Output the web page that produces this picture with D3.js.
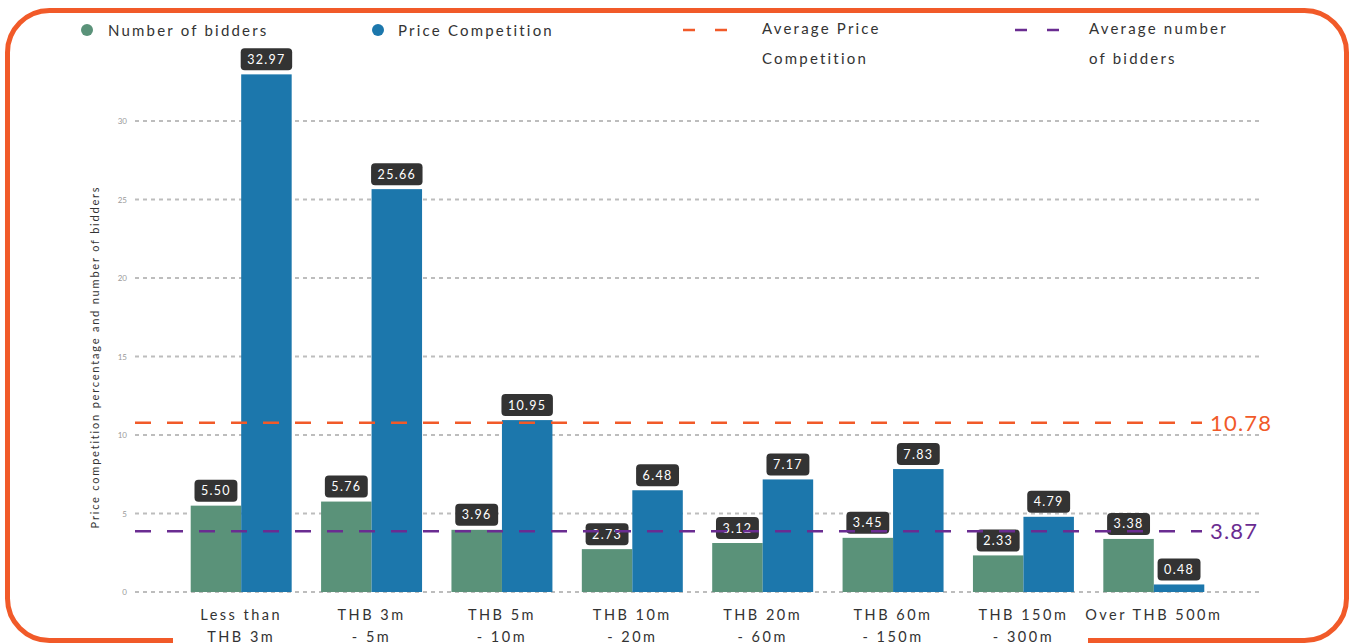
<!DOCTYPE html>
<html>
<head>
<meta charset="utf-8">
<script src="https://cdn.jsdelivr.net/npm/d3@7"></script>
<style>
  body { margin: 0; background: #fff; }
  svg { display: block; font-family: Lato, "Open Sans", sans-serif; }
</style>
</head>
<body>
<svg id="chart"></svg>
<script>
var categories = [["Less than", "THB 3m"], ["THB 3m", "- 5m"], ["THB 5m", "- 10m"], ["THB 10m", "- 20m"],
                  ["THB 20m", "- 60m"], ["THB 60m", "- 150m"], ["THB 150m", "- 300m"], ["Over THB 500m"]]
var bidders = [5.50, 5.76, 3.96, 2.73, 3.12, 3.45, 2.33, 3.38]
var priceCompetition = [32.97, 25.66, 10.95, 6.48, 7.17, 7.83, 4.79, 0.48]
var yTicks = [0, 5, 10, 15, 20, 25, 30]
var avgPrice = 10.78
var avgBidders = 3.87

var dimensions = {
    width: 1354,
    height: 644,
    margin: { top: 121, bottom: 52, left: 176, right: 135 }
}

var green = "#5a9279"
var blue = "#1c77ac"
var orange = "#f15a29"
var purple = "#6a2c91"

var svg = d3.select("#chart")
            .attr("width", dimensions.width)
            .attr("height", dimensions.height)

// frame
svg.append("rect")
   .attr("x", 7.5).attr("y", 10.5)
   .attr("width", 1339).attr("height", 630)
   .attr("rx", 42).attr("ry", 42)
   .attr("fill", "none")
   .attr("stroke", orange)
   .attr("stroke-width", 5)

// white patch behind the x labels
svg.append("rect")
   .attr("x", 173).attr("y", 600)
   .attr("width", 915).attr("height", 44)
   .attr("fill", "#fff")

var keys = ["bidders", "price"]
var rows = categories.map((c, i) => ({ cat: c, i: i, bidders: bidders[i], price: priceCompetition[i] }))

var xScale = d3.scaleBand()
               .domain(d3.range(categories.length))
               .range([dimensions.margin.left, dimensions.width - dimensions.margin.right])
               .paddingInner(0.2255)
               .paddingOuter(0.1128)

var x1 = d3.scaleBand().domain(keys).range([0, xScale.bandwidth()])

var yScale = d3.scaleLinear()
               .domain([0, 30])
               .range([dimensions.height - dimensions.margin.bottom, dimensions.margin.top])

var color = d3.scaleOrdinal().domain(keys).range([green, blue])

// grid lines
var grid = svg.append("g")
grid.selectAll("line")
    .data(yTicks)
    .enter()
    .append("line")
    .attr("x1", 135).attr("x2", 1260)
    .attr("y1", d => yScale(d)).attr("y2", d => yScale(d))
    .attr("stroke", "#bdbdbd")
    .attr("stroke-width", 2)
    .attr("stroke-dasharray", "4,4")

grid.selectAll("text")
    .data(yTicks)
    .enter()
    .append("text")
    .attr("x", 127)
    .attr("y", d => yScale(d) + 3)
    .attr("text-anchor", "end")
    .attr("font-size", 8)
    .attr("fill", "#9a9a9a")
    .text(d => d)

// y title
svg.append("text")
   .attr("transform", `translate(99, ${357}) rotate(-90)`)
   .attr("text-anchor", "middle")
   .attr("font-size", 11)
   .attr("letter-spacing", 1.8)
   .attr("fill", "#333")
   .text("Price competition percentage and number of bidders")

// bars
var groups = svg.append("g")
                .selectAll("g")
                .data(rows)
                .enter()
                .append("g")
                .attr("transform", d => `translate(${xScale(d.i)},0)`)

groups.selectAll("rect")
      .data(d => keys.map(k => ({ key: k, value: d[k] })))
      .enter()
      .append("rect")
      .attr("x", d => x1(d.key))
      .attr("y", d => yScale(d.value))
      .attr("width", x1.bandwidth())
      .attr("height", d => yScale(0) - yScale(d.value))
      .attr("fill", d => color(d.key))

// average lines
var avgs = [{ v: avgPrice, c: orange }, { v: avgBidders, c: purple }]
svg.append("g")
   .selectAll("line")
   .data(avgs)
   .enter()
   .append("line")
   .attr("x1", 135).attr("x2", 1202)
   .attr("y1", d => yScale(d.v)).attr("y2", d => yScale(d.v))
   .attr("stroke", d => d.c)
   .attr("stroke-width", 2.5)
   .attr("stroke-dasharray", "16,16")

svg.append("g")
   .selectAll("text")
   .data(avgs)
   .enter()
   .append("text")
   .attr("x", 1210)
   .attr("y", d => yScale(d.v) + 8)
   .attr("font-size", 22)
   .attr("letter-spacing", 1.2)
   .attr("fill", d => d.c)
   .text(d => d.v.toFixed(2))

// value labels
var labels = groups.selectAll("g.lbl")
      .data(d => keys.map(k => ({ key: k, value: d[k] })))
      .enter()
      .append("g")
      .attr("class", "lbl")
      .attr("transform", d => `translate(${x1(d.key) + x1.bandwidth() / 2}, ${yScale(d.value) - 15})`)

labels.append("rect")
      .attr("x", -21).attr("y", -11)
      .attr("width", 42).attr("height", 22)
      .attr("rx", 4)
      .attr("fill", "#333")

labels.append("text")
      .attr("text-anchor", "middle")
      .attr("y", 4.5)
      .attr("font-size", 12.5)
      .attr("letter-spacing", 1.3)
      .attr("fill", "#fff")
      .text(d => d.value.toFixed(2))

labels.each(function() {
    var t = d3.select(this).select("text").node().getBBox()
    var w = t.width + 13
    d3.select(this).select("rect").attr("x", -w / 2).attr("width", w)
})

// x labels
var xl = svg.append("g")
            .selectAll("text")
            .data(rows)
            .enter()
            .append("text")
            .attr("x", d => xScale(d.i) + xScale.bandwidth() / 2)
            .attr("y", 620)
            .attr("text-anchor", "middle")
            .attr("font-size", 14.5)
            .attr("letter-spacing", 2.5)
            .attr("fill", "#333")

xl.selectAll("tspan")
  .data(d => d.cat)
  .enter()
  .append("tspan")
  .attr("x", function() { return d3.select(this.parentNode).attr("x") })
  .attr("dy", (d, i) => i === 0 ? 0 : 22)
  .text(d => d)

// legend
var legend = svg.append("g").attr("font-size", 15).attr("letter-spacing", 2.2).attr("fill", "#333")

legend.append("circle").attr("cx", 87).attr("cy", 30).attr("r", 6).attr("fill", green)
legend.append("text").attr("x", 108).attr("y", 36).text("Number of bidders")
legend.append("circle").attr("cx", 378).attr("cy", 30).attr("r", 6).attr("fill", blue)
legend.append("text").attr("x", 398).attr("y", 36).text("Price Competition")

legend.append("line").attr("x1", 683).attr("x2", 733).attr("y1", 30).attr("y2", 30)
      .attr("stroke", orange).attr("stroke-width", 2.5).attr("stroke-dasharray", "12,20")
legend.append("text").attr("x", 762).attr("y", 34).text("Average Price")
legend.append("text").attr("x", 762).attr("y", 64).text("Competition")

legend.append("line").attr("x1", 1015).attr("x2", 1065).attr("y1", 30).attr("y2", 30)
      .attr("stroke", purple).attr("stroke-width", 2.5).attr("stroke-dasharray", "12,20")
legend.append("text").attr("x", 1089).attr("y", 34).text("Average number")
legend.append("text").attr("x", 1089).attr("y", 64).text("of bidders")
</script>
</body>
</html>
